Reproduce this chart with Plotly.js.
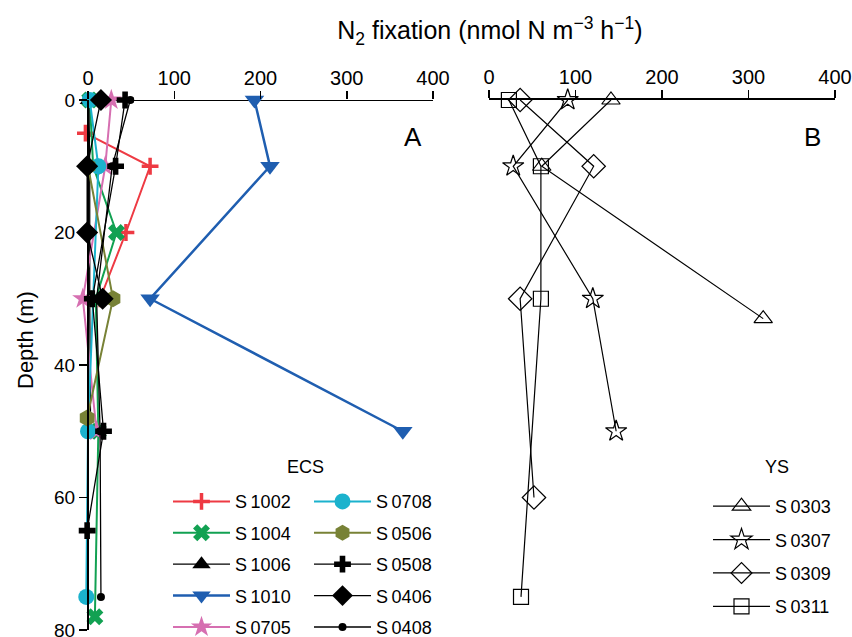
<!DOCTYPE html>
<html>
<head>
<meta charset="utf-8">
<script src="https://cdn.plot.ly/plotly-3.0.1.min.js"></script>
<style>html,body{margin:0;padding:0;background:#fff;}#chart{width:852px;height:637px;}</style>
</head>
<body>
<div id="chart"></div>
<script>
// ---- Data (ECS stations, left panel) ----
var s1002Depth = [5, 10, 20, 30];
var s1002Val   = [-3, 72, 44, 14];
var s1004Depth = [0, 10, 20, 30, 50, 78];
var s1004Val   = [2, 6, 33, 9, 12, 8];
var s1006Depth = [0, 10, 30, 50];
var s1006Val   = [1, 2, 2, 3];
var s1010Depth = [0, 10, 30, 50];
var s1010Val   = [193, 211, 72, 365];
var s0705Depth = [0, 10, 30, 50];
var s0705Val   = [27, 20, -6, 10];
var s0708Depth = [0, 10, 50, 75];
var s0708Val   = [2, 12, 0, -2];
var s0506Depth = [10, 30, 48];
var s0506Val   = [0, 29, -1];
var s0508Depth = [0, 10, 30, 50, 65];
var s0508Val   = [43, 32, 5, 18, -1];
var s0406Depth = [0, 10, 20, 30];
var s0406Val   = [15, -1, -1, 17];
var s0408Depth = [0, 10, 30, 50, 75];
var s0408Val   = [49, 28, 10, 14, 15];
// ---- Data (YS stations, right panel) ----
var s0303Depth = [0, 10, 33];
var s0303Val   = [141, 61, 317];
var s0307Depth = [0, 10, 30, 50];
var s0307Val   = [91, 28, 120, 147];
var s0309Depth = [0, 10, 30, 60];
var s0309Val   = [36, 121, 36, 52];
var s0311Depth = [0, 10, 30, 75];
var s0311Val   = [23, 60, 60, 37];
var xTicks = [0, 100, 200, 300, 400];
var yTicks = [0, 20, 40, 60, 80];

var FONT = '"Liberation Sans", Arial, Helvetica, sans-serif';
var W = 852;
var PX_PER_UNIT = 345 / 400;   // left panel scale
var X_MIN = -12;               // small room for near-zero points left of the axis

function ecs(name, x, y, color, symbol, size, lw, legend, mline) {
  return {
    type: 'scatter', mode: 'lines+markers', name: name, x: x, y: y,
    xaxis: 'x', yaxis: 'y', legend: legend, legendgroup: name, cliponaxis: false,
    line: {color: color, width: lw},
    marker: {symbol: symbol, size: size, color: color, line: mline || {width: 0}}
  };
}
function ys(name, x, y, symbol, size) {
  return {
    type: 'scatter', mode: 'lines+markers', name: name, x: x, y: y,
    xaxis: 'x2', yaxis: 'y', legend: 'legend3', legendgroup: name, cliponaxis: false,
    line: {color: '#000', width: 1.2},
    marker: {symbol: symbol, size: size, color: '#000', line: {color: '#000', width: 1.2}}
  };
}

var traces = [
  ecs('S\u20091002', s1002Val, s1002Depth, '#ee3a43', 'cross-thin', 12, 2, 'legend', {color: '#ee3a43', width: 3.5}),
  ecs('S\u20091004', s1004Val, s1004Depth, '#12a152', 'x', 15, 2, 'legend'),
  ecs('S\u20091006', s1006Val, s1006Depth, '#000000', 'triangle-up', 16, 1.3, 'legend'),
  ecs('S\u20091010', s1010Val, s1010Depth, '#1f5eb0', 'triangle-down', 17, 2.5, 'legend'),
  ecs('S\u20090705', s0705Val, s0705Depth, '#d66fb1', 'star', 16, 2, 'legend'),
  ecs('S\u20090708', s0708Val, s0708Depth, '#1bb2cd', 'circle', 16, 2, 'legend2'),
  ecs('S\u20090506', s0506Val, s0506Depth, '#788236', 'hexagon', 17, 2, 'legend2'),
  ecs('S\u20090508', s0508Val, s0508Depth, '#000000', 'cross', 14, 1.3, 'legend2'),
  ecs('S\u20090406', s0406Val, s0406Depth, '#000000', 'diamond', 17, 1.3, 'legend2'),
  ecs('S\u20090408', s0408Val, s0408Depth, '#000000', 'circle', 8, 1.3, 'legend2'),
  ys('S\u20090303', s0303Val, s0303Depth, 'triangle-up-open', 16),
  ys('S\u20090307', s0307Val, s0307Depth, 'star-open', 16),
  ys('S\u20090309', s0309Val, s0309Depth, 'diamond-open', 18),
  ys('S\u20090311', s0311Val, s0311Depth, 'square-open', 15)
];

function xax(domain, range, showline) {
  return {
    domain: domain, range: range, side: 'top', anchor: 'y',
    tickvals: xTicks, ticktext: xTicks.map(String),
    ticks: 'outside', ticklen: 8, tickwidth: 1.5, tickcolor: '#000',
    showline: showline, linewidth: 2, linecolor: '#000',
    showgrid: false, zeroline: false, automargin: false,
    ticklabelstandoff: -2,
    tickfont: {family: FONT, size: 20, color: '#000'}
  };
}
function leg(x, y, gap) {
  return {
    bgcolor: 'rgba(0,0,0,0)', borderwidth: 0, itemwidth: 57,
    font: {family: FONT, size: 18, color: '#000'}, tracegroupgap: gap,
    xanchor: 'left', yanchor: 'top', itemclick: false, itemdoubleclick: false,
    x: x, y: y
  };
}
function txt(s, xpx, ypx, size, angle) {
  return {text: s, xref: 'paper', yref: 'paper', x: xpx / W, y: (630 - ypx) / 530,
          xanchor: 'center', yanchor: 'middle', showarrow: false, textangle: angle || 0,
          font: {family: FONT, size: size, color: '#000'}};
}

var leftStart = 88 + X_MIN * PX_PER_UNIT;

var layout = {
  width: 852, height: 637,
  margin: {l: 0, r: 0, t: 100, b: 7, autoexpand: false},
  paper_bgcolor: '#fff', plot_bgcolor: 'rgba(0,0,0,0)',
  font: {family: FONT, color: '#000'},
  showlegend: true,
  title: {
    text: 'N<sub>2</sub> fixation (nmol N m<sup>\u22123</sup> h<sup>\u22121</sup>)',
    font: {family: FONT, size: 25, color: '#000'},
    xref: 'paper', x: 0.575, xanchor: 'center', yref: 'container', y: 0.952, yanchor: 'middle'
  },
  xaxis: xax([leftStart / W, 433 / W], [X_MIN, 400], false),
  xaxis2: xax([489 / W, 835 / W], [0, 400], true),
  yaxis: {
    domain: [0, 1], range: [80, 0], anchor: 'free', position: 88 / W,
    tickvals: yTicks, ticktext: yTicks.map(String),
    ticks: 'outside', ticklen: 8, tickwidth: 1.5, tickcolor: '#000',
    showline: true, linewidth: 2, linecolor: '#000',
    showgrid: false, zeroline: false, automargin: false,
    ticklabeloverflow: 'allow',
    tickfont: {family: FONT, size: 19, color: '#000'}
  },
  shapes: [
    // top axis line of the left panel, from 0 to 400
    {type: 'line', xref: 'x', yref: 'y', x0: 0, x1: 400, y0: 0, y1: 0, layer: 'below',
     line: {color: '#000', width: 2}}
  ],
  legend: leg(168 / W, 0.277, 5),
  legend2: leg(309 / W, 0.277, 5),
  legend3: leg(708 / W, 0.268, 7),
  annotations: [
    txt('Depth (m)', 25, 340, 22, -90),
    txt('ECS', 305, 467, 18),
    txt('YS', 777, 467, 18),
    txt('A', 413, 137, 26),
    txt('B', 812, 137, 26)
  ]
};

Plotly.newPlot('chart', traces, layout, {staticPlot: true, displayModeBar: false});
</script>
</body>
</html>
